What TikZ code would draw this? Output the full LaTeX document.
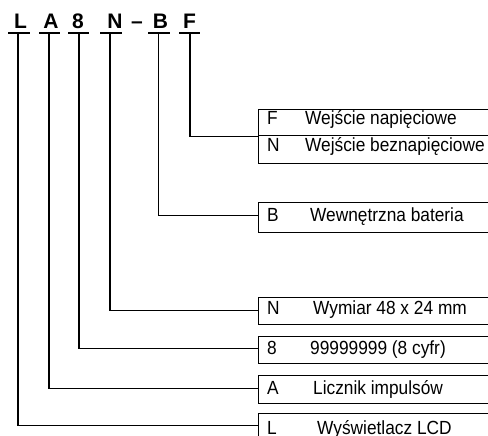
\documentclass[tikz,border=0pt]{standalone}
\usepackage{fontspec}
\setmainfont{Liberation Sans}
\newcommand{\tallt}[1]{\scalebox{1}[1.1]{#1}}
\begin{document}
\begin{tikzpicture}[x=1pt,y=-1pt,
  code/.style={font=\fontsize{21}{21}\selectfont\bfseries, inner sep=0pt, anchor=base},
  uline/.style={line width=1.8pt},
  conn/.style={line width=1.2pt},
  box/.style={draw, line width=1.2pt, rectangle, inner sep=0pt, minimum width=260pt, anchor=north west},
  lab/.style={font=\fontsize{17.3}{17.3}\selectfont, inner sep=0pt, anchor=base west},
]
\useasboundingbox (0,0) rectangle (488,436);
\clip (0,0) rectangle (488,436);
\fill[white] (0,0) rectangle (488,436);

% code letters
\node[code] (tL) at (20.5,28.5) {L};
\node[code] (tA) at (51,28.5) {A};
\node[code] (t8) at (78,28.5) {8};
\node[code] (tN) at (115,28.5) {N};
\node[code] (tD) at (137,28.5) {–};
\node[code] (tB) at (160.5,28.5) {B};
\node[code] (tF) at (189.5,28.5) {F};

% underlines
\draw[uline] (8,33) -- (30,33);
\draw[uline] (39,33) -- (60,33);
\draw[uline] (68,33) -- (89,33);
\draw[uline] (100,33) -- (122,33);
\draw[uline] (148,33) -- (170,33);
\draw[uline] (179,33) -- (200,33);

\coordinate (uL) at (18,33);
\coordinate (uA) at (49,33);
\coordinate (u8) at (79,33);
\coordinate (uN) at (110,33);
\coordinate (uB) at (158.5,33);
\coordinate (uF) at (190,33);

% boxes
\node[box, minimum height=26pt] (bF) at (258,109) {};
\node[box, minimum height=28pt] (bN2) at (258,135) {};
\node[box, minimum height=30pt] (bB) at (258,202) {};
\node[box, minimum height=27pt] (bN) at (258,297) {};
\node[box, minimum height=27pt] (b8) at (258,336) {};
\node[box, minimum height=28pt] (bA) at (258,375) {};
\node[box, minimum height=28pt] (bL) at (258,413) {};

% texts
\node[lab] (kF) at (267,124.3) {\tallt{F}};
\node[lab] (dF) at (305,124.3) {\tallt{Wejście napięciowe}};
\node[lab] (kN2) at (267,151.5) {\tallt{N}};
\node[lab] (dN2) at (305,151.5) {\tallt{Wejście beznapięciowe}};
\node[lab] (kB) at (267,221.5) {\tallt{B}};
\node[lab] (dB) at (310,221.5) {\tallt{Wewnętrzna bateria}};
\node[lab] (kN) at (267,314) {\tallt{N}};
\node[lab] (dN) at (313,314) {\tallt{Wymiar 48 x 24 mm}};
\node[lab] (k8) at (267,354) {\tallt{8}};
\node[lab] (d8) at (310,354) {\tallt{99999999 (8 cyfr)}};
\node[lab] (kA) at (267,394) {\tallt{A}};
\node[lab] (dA) at (313,394) {\tallt{Licznik impulsów}};
\node[lab] (kL) at (267,434) {\tallt{L}};
\node[lab] (dL) at (317,434) {\tallt{Wyświetlacz LCD}};

% connectors
\draw[conn] (uF) |- (bF.south west);
\draw[conn] (uB) |- ([yshift=2pt]bB.west);
\draw[conn] (uN) |- ([yshift=1pt]bN.west);
\draw[conn] (u8) |- ([yshift=1.5pt]b8.west);
\draw[conn] (uA) |- ([yshift=1pt]bA.west);
\draw[conn] (uL) |- ([yshift=2pt]bL.west);
\end{tikzpicture}
\end{document}
